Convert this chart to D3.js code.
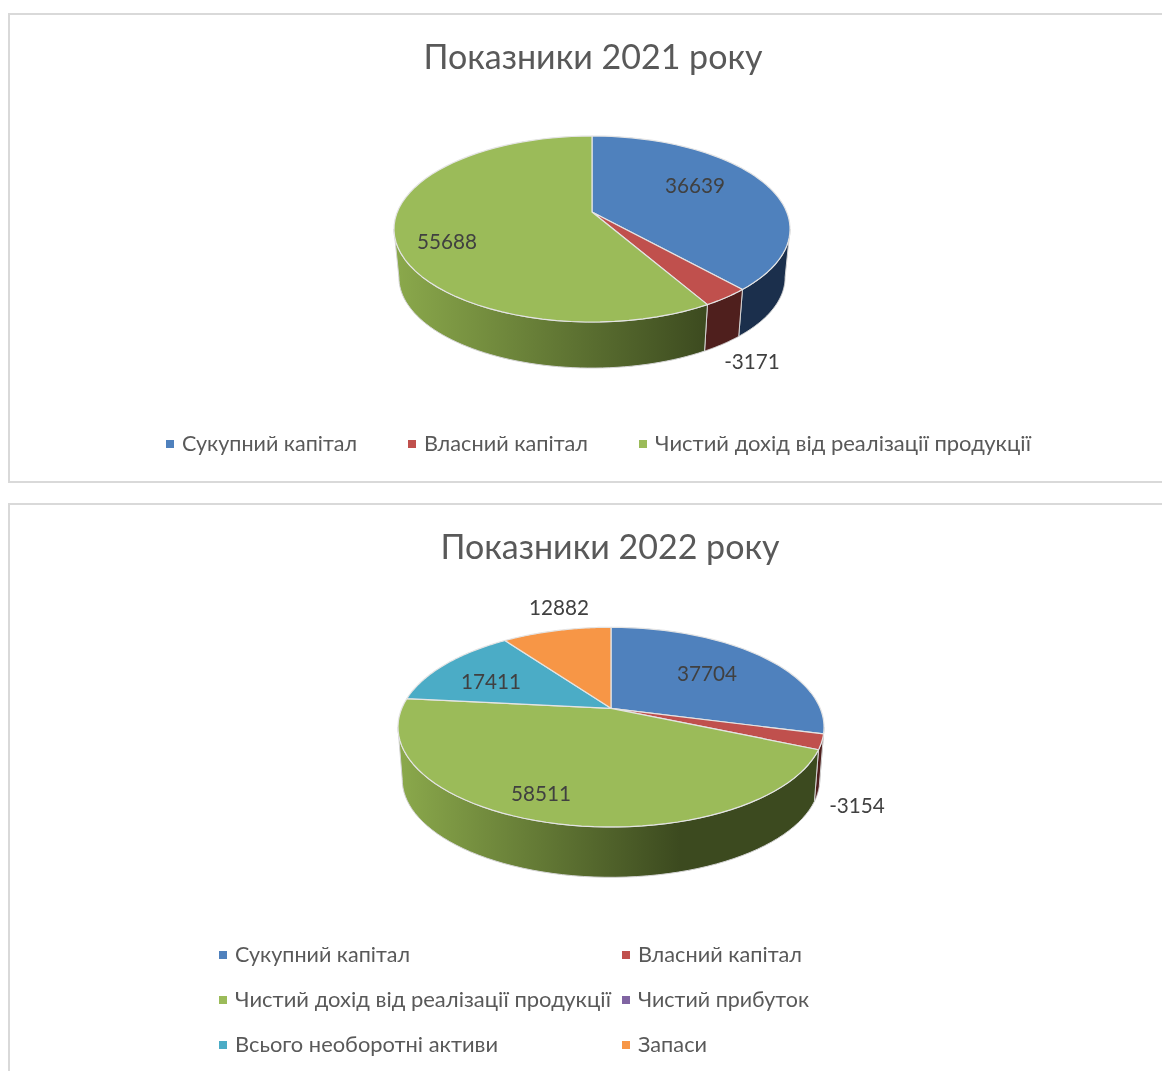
<!DOCTYPE html>
<html><head><meta charset="utf-8">
<script src="https://cdn.jsdelivr.net/npm/d3@7/dist/d3.min.js"></script>
<style>html,body{margin:0;padding:0;background:#fff}svg{display:block;filter:blur(0.45px)}</style>
</head><body><svg id="c" width="1162" height="1071"></svg>
<script>
const categories = ["Сукупний капітал","Власний капітал","Чистий дохід від реалізації продукції","Чистий прибуток","Всього необоротні активи","Запаси"];
const colors = ["#4f81bd","#c0504d","#9bbb59","#8064a2","#4bacc6","#f79646"];
const sideColors = [["#1b2f4c","#1b2f4c"],["#4f1f1d","#4f1f1d"],["#8aa84b","#3c4a1f"],["#40325a","#40325a"],["#255a68","#255a68"],["#7c4a20","#7c4a20"]];
const values2021 = [36639,-3171,55688];
const values2022 = [37704,-3154,58511,0,17411,12882];
const titles = ["Показники 2021 року","Показники 2022 року"];
const legendWidths = [175,164,376,171,263,69];

const FONT = "Lato, 'Noto Sans', sans-serif";
const svg = d3.select("#c");
const defs = svg.append("defs");

function panel(o, idx){
  const g = svg.append("g");
  g.append("rect").attr("x",o.frame[0]).attr("y",o.frame[1]).attr("width",o.frame[2]).attr("height",o.frame[3])
    .attr("fill","#fff").attr("stroke","#d9d9d9").attr("stroke-width",2);
  g.append("text").attr("x",o.titleXY[0]).attr("y",o.titleXY[1]).attr("text-anchor","middle")
    .attr("font-family",FONT).attr("font-size",34).attr("fill","#595959").text(o.title);

  const pie = d3.pie().sort(null).value(d=>Math.abs(d.v)).startAngle(0).endAngle(2*Math.PI);
  const slices = pie(o.values.map((v,i)=>({v,i}))).filter(s=>s.data.v!==0);

  // perspective projection of the disc: near edge larger than far edge
  const project = (t, r, L) => {
    const u = r*Math.sin(t), w = -r*Math.cos(t), d = 1 - o.k*w;
    return [o.cx + L.s*o.B*u/d, o.cy + L.dy + L.s*o.A*w/d];
  };
  const top = {s:1,dy:0}, bot = {s:o.bs,dy:o.depth};
  const rim = (a0,a1,L) => d3.range(0,61).map(j=>project(a0+(a1-a0)*j/60,1,L));
  const line = d3.line();

  const gradId = "side"+idx;
  const gr = defs.append("linearGradient").attr("id",gradId).attr("gradientUnits","userSpaceOnUse")
    .attr("x1",o.grad[0]).attr("x2",o.grad[1]).attr("y1",0).attr("y2",0);
  gr.append("stop").attr("offset",0).attr("stop-color",sideColors[2][0]);
  gr.append("stop").attr("offset",1).attr("stop-color",sideColors[2][1]);

  // side wall: only the part between the two silhouette points faces the viewer
  const tR = Math.acos(-o.k), tL = 2*Math.PI - tR;
  slices.forEach(s=>{
    const a0 = Math.max(s.startAngle,tR), a1 = Math.min(s.endAngle,tL);
    if(a1 <= a0) return;
    const t = rim(a0,a1,top), b = rim(a0,a1,bot).reverse();
    g.append("path").attr("d",line(t.concat(b))+"Z")
      .attr("fill", s.data.i===2 ? `url(#${gradId})` : sideColors[s.data.i][0])
      .attr("stroke","#d4d4d4").attr("stroke-width",1).attr("stroke-linejoin","round");
  });
  // top face
  slices.forEach(s=>{
    const pts = [project(0,0,top)].concat(rim(s.startAngle,s.endAngle,top));
    g.append("path").attr("d",line(pts)+"Z").attr("fill",colors[s.data.i])
      .attr("stroke","#e4e4e4").attr("stroke-width",1.2).attr("stroke-linejoin","round");
  });
  // data labels
  o.values.forEach((v,i)=>{
    if(!v) return;
    const tx = g.append("text").attr("x",o.labels[i][0]).attr("y",o.labels[i][1]).attr("text-anchor","middle")
      .attr("font-family",FONT).attr("font-size",22).attr("fill","#404040").text(v);
    tx.attr("textLength",tx.node().getComputedTextLength()*0.94).attr("lengthAdjust","spacingAndGlyphs");
  });
  // legend
  o.legend.forEach(([i,x,y])=>{
    g.append("rect").attr("x",x).attr("y",y-4).attr("width",8).attr("height",8).attr("fill",colors[i]);
    g.append("text").attr("x",x+16).attr("y",y+7).attr("font-family",FONT).attr("font-size",21.5)
      .attr("textLength",legendWidths[i]).attr("lengthAdjust","spacingAndGlyphs")
      .attr("fill","#595959").text(categories[i]);
  });
}

panel({title:titles[0],values:values2021,frame:[9,14,1170,468],titleXY:[593,69],
  cx:592,cy:212,A:89.9,B:194.7,k:0.183,depth:48.8,bs:0.975,grad:[398,708],
  labels:[[695,193],[752,369],[447,249]],
  legend:[[0,166,444],[1,408,444],[2,639,444]]},0);
panel({title:titles[1],values:values2022,frame:[9,504,1170,620],titleXY:[610,559],
  cx:611,cy:708.3,A:96.3,B:209.2,k:0.1887,depth:52.7,bs:0.98,grad:[402,680],
  labels:[[707,681],[857,813],[541,801],null,[491,689],[559,615]],
  legend:[[0,219,955],[1,622,955],[2,219,1000],[3,622,1000],[4,219,1045],[5,622,1045]]},1);
</script></body></html>
